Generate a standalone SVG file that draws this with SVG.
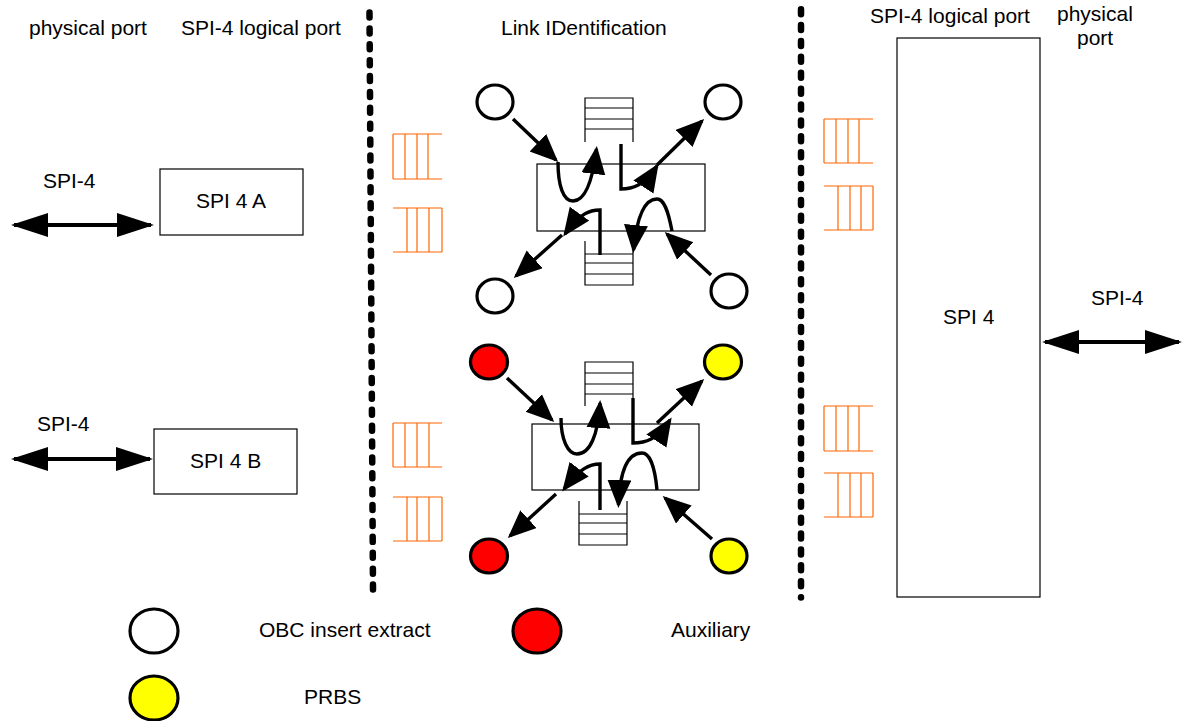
<svg xmlns="http://www.w3.org/2000/svg" width="1182" height="721" viewBox="0 0 1182 721">
<style>
text{font-family:"Liberation Sans",Arial,sans-serif;font-size:21px;fill:#000}
.box{fill:#fff;stroke:#000;stroke-width:1.2}
.frame{fill:none;stroke:#000;stroke-width:1.2}
.node{stroke:#000;stroke-width:3.2}
.lad{fill:none;stroke:#f60;stroke-width:1.2}
.stk{fill:none;stroke:#000;stroke-width:1.2}
.dot{fill:none;stroke:#000;stroke-width:6.5;stroke-dasharray:5 10.89;stroke-linecap:round}
.c{fill:none;stroke:#000;stroke-width:3.4}
.h{marker-end:url(#head)}
.b{stroke-width:4;marker-start:url(#big);marker-end:url(#big)}
</style>
<defs>
<marker id="head" markerUnits="userSpaceOnUse" markerWidth="30" markerHeight="26" refX="25" refY="12" orient="auto"><path d="M0,0L28,12L0,24Z" fill="#000"/></marker>
<marker id="big" markerUnits="userSpaceOnUse" markerWidth="38" markerHeight="26" refX="34" refY="12" orient="auto-start-reverse"><path d="M0,0L37,12L0,24Z" fill="#000"/></marker>
</defs>

<g id="dividers">
<line class="dot" x1="369.500" y1="12.500" x2="373" y2="590"/>
<line class="dot" x1="801" y1="9.200" x2="801" y2="597.500"/>
</g>

<g id="port-a"><rect class="box" x="160" y="169" width="143" height="66"/><text x="196" y="208">SPI 4 A</text></g>
<g id="port-b"><rect class="box" x="154" y="429" width="143" height="65"/><text x="190" y="468">SPI 4 B</text></g>
<g id="port-main"><rect class="box" x="897" y="38" width="143" height="559"/><text x="943" y="324">SPI 4</text></g>

<g id="ladders">
<path class="lad" d="M393,134H442M393,179H442M393,134V179M405,134V179M417,134V179M428,134V179"/>
<path class="lad" d="M393,208H442M393,252H442M407,208V252M417,208V252M429,208V252M442,208V252"/>
<path class="lad" d="M393,423H442M393,467H442M393,423V467M405,423V467M417,423V467M429,423V467"/>
<path class="lad" d="M393,497H442M393,541H442M407,497V541M417,497V541M429,497V541M442,497V541"/>
<path class="lad" d="M824,119H873M824,163H873M824,119V163M836,119V163M848,119V163M859,119V163"/>
<path class="lad" d="M824,186H873M824,230H873M838,186V230M850,186V230M861,186V230M873,186V230"/>
<path class="lad" d="M824,406H873M824,451H873M824,406V451M836,406V451M848,406V451M859,406V451"/>
<path class="lad" d="M824,473H873M824,517H873M838,473V517M850,473V517M861,473V517M873,473V517"/>
</g>

<g id="link-top">
<rect class="frame" x="537" y="164" width="168" height="67"/>
<path class="stk" d="M585,142V98H633V142M585,108H633M585,119H633M585,129H633"/>
<path class="stk" d="M585,241V285H633V241M585,254H633M585,263H633M585,274H633"/>
</g>
<g id="link-bottom">
<rect class="frame" x="532" y="424" width="167" height="66"/>
<path class="stk" d="M585,406V362H633V398M585,373H633M585,384H633M585,394H633"/>
<path class="stk" d="M579,501V545H627V501M579,514H627M579,523H627M579,534H627"/>
</g>

<g id="n-tl"><ellipse class="node" cx="495" cy="102" rx="18" ry="17" fill="#fff"/></g>
<g id="n-tr"><ellipse class="node" cx="723" cy="102" rx="18" ry="17" fill="#fff"/></g>
<g id="n-bl"><ellipse class="node" cx="495" cy="296" rx="18" ry="17" fill="#fff"/></g>
<g id="n-br"><ellipse class="node" cx="729" cy="291" rx="18" ry="17" fill="#fff"/></g>
<g id="a-tl"><ellipse class="node" cx="489" cy="362" rx="18.5" ry="17" fill="#f00"/></g>
<g id="p-tr"><ellipse class="node" cx="723" cy="362" rx="18.5" ry="17" fill="#ff0"/></g>
<g id="a-bl"><ellipse class="node" cx="489" cy="556" rx="18.5" ry="17" fill="#f00"/></g>
<g id="p-br"><ellipse class="node" cx="729" cy="556" rx="18" ry="17" fill="#ff0"/></g>
<g id="legend-obc"><ellipse class="node" cx="154" cy="631" rx="24" ry="22" fill="#fff"/><text x="259" y="637">OBC insert extract</text></g>
<g id="legend-aux"><ellipse class="node" cx="537" cy="631" rx="24" ry="22" fill="#f00"/><text x="671" y="637">Auxiliary</text></g>
<g id="legend-prbs"><ellipse class="node" cx="154" cy="698" rx="24" ry="22" fill="#ff0"/><text x="304" y="704">PRBS</text></g>

<g id="connectors">
<path class="c h" d="M513,119L556,160"/>
<path class="c h" d="M558,162C558,185 563,201 573,201C584,201 592,185 596.500,149"/>
<path class="c h" d="M621,144V189C632,189 644,186 657,166"/>
<path class="c h" d="M657,165L702,121"/>
<path class="c h" d="M600,255V210C590,210 580,213 565,234"/>
<path class="c h" d="M562,235L516,276"/>
<path class="c h" d="M672,231C668,210 664,199 657,199C645,199 637,215 633.500,250"/>
<path class="c h" d="M711,275L667,234"/>

<path class="c h" d="M507,378L552,420"/>
<path class="c h" d="M561,418C561,440 568,454 577,454C590,454 598,435 600,403"/>
<path class="c h" d="M633,398V443C645,443 657,440 670,420"/>
<path class="c h" d="M657,423L702,381"/>
<path class="c h" d="M600,510V464C590,464 580,468 564,489"/>
<path class="c h" d="M556,494L510,536"/>
<path class="c h" d="M657,490C655,468 650,453 642,453C630,453 620,465 618.500,505"/>
<path class="c h" d="M712,539L665,498"/>

<line class="c b" x1="14" y1="225" x2="151" y2="225"/>
<line class="c b" x1="14" y1="459" x2="150" y2="459"/>
<line class="c b" x1="1045" y1="342" x2="1179" y2="342"/>
</g>

<g id="labels">
<text x="29" y="35">physical port</text>
<text x="181" y="35">SPI-4 logical port</text>
<text x="501" y="35">Link IDentification</text>
<text x="870" y="23">SPI-4 logical port</text>
<text x="1057" y="21">physical</text>
<text x="1077" y="45">port</text>
<text x="43" y="188">SPI-4</text>
<text x="37" y="431">SPI-4</text>
<text x="1091" y="305">SPI-4</text>
</g>
</svg>
